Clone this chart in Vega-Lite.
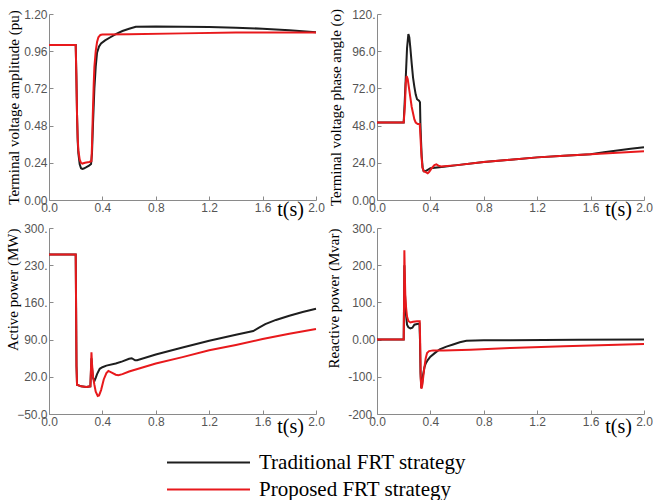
{
 "$schema": "https://vega.github.io/schema/vega-lite/v6.json",
 "padding": {"left": 4, "top": 8, "right": 2, "bottom": 2},
 "background": "white",
 "config": {
  "view": {"stroke": null},
  "axis": {"grid": false, "domainColor": "#8a8a8a", "tickColor": "#8a8a8a", "tickSize": -4, "labelColor": "#555555", "labelFont": "Liberation Sans", "labelFontSize": 12, "labelPadding": 5, "labelFlush": false, "labelOverlap": false, "titleFont": "Liberation Serif", "titleFontWeight": "normal", "titleColor": "#000000", "titleFontSize": 15},
  "axisX": {"titleFontSize": 20, "titleAlign": "center", "titleBaseline": "alphabetic", "labelPadding": 6},
  "axisY": {"titleBaseline": "alphabetic", "labelPadding": 6},
  "line": {"strokeWidth": 2}
 },
 "datasets": {
  "v": [
   {"s":"T","t":0,"y":1.0},{"s":"T","t":0.2,"y":1.0},{"s":"T","t":0.205,"y":0.8},{"s":"T","t":0.21,"y":0.55},{"s":"T","t":0.215,"y":0.38},{"s":"T","t":0.22,"y":0.3},{"s":"T","t":0.23,"y":0.23},{"s":"T","t":0.24,"y":0.205},{"s":"T","t":0.25,"y":0.2},{"s":"T","t":0.26,"y":0.203},{"s":"T","t":0.28,"y":0.212},{"s":"T","t":0.3,"y":0.222},{"s":"T","t":0.315,"y":0.232},{"s":"T","t":0.322,"y":0.3},{"s":"T","t":0.33,"y":0.5},{"s":"T","t":0.34,"y":0.72},{"s":"T","t":0.35,"y":0.86},{"s":"T","t":0.36,"y":0.95},{"s":"T","t":0.375,"y":0.99},{"s":"T","t":0.39,"y":1.01},{"s":"T","t":0.42,"y":1.03},{"s":"T","t":0.46,"y":1.05},{"s":"T","t":0.5,"y":1.07},{"s":"T","t":0.55,"y":1.09},{"s":"T","t":0.6,"y":1.105},{"s":"T","t":0.65,"y":1.118},{"s":"T","t":0.8,"y":1.12},{"s":"T","t":1.0,"y":1.118},{"s":"T","t":1.2,"y":1.116},{"s":"T","t":1.4,"y":1.112},{"s":"T","t":1.6,"y":1.105},{"s":"T","t":1.8,"y":1.095},{"s":"T","t":2.0,"y":1.083},
   {"s":"P","t":0,"y":1.0},{"s":"P","t":0.2,"y":1.0},{"s":"P","t":0.205,"y":0.8},{"s":"P","t":0.21,"y":0.55},{"s":"P","t":0.215,"y":0.4},{"s":"P","t":0.22,"y":0.32},{"s":"P","t":0.23,"y":0.26},{"s":"P","t":0.24,"y":0.24},{"s":"P","t":0.25,"y":0.235},{"s":"P","t":0.27,"y":0.24},{"s":"P","t":0.3,"y":0.245},{"s":"P","t":0.318,"y":0.25},{"s":"P","t":0.322,"y":0.35},{"s":"P","t":0.328,"y":0.55},{"s":"P","t":0.335,"y":0.75},{"s":"P","t":0.34,"y":0.86},{"s":"P","t":0.35,"y":0.96},{"s":"P","t":0.36,"y":1.02},{"s":"P","t":0.37,"y":1.05},{"s":"P","t":0.385,"y":1.065},{"s":"P","t":0.4,"y":1.068},{"s":"P","t":0.6,"y":1.07},{"s":"P","t":1.0,"y":1.075},{"s":"P","t":1.4,"y":1.08},{"s":"P","t":2.0,"y":1.08}
  ],
  "a": [
   {"s":"T","t":0,"y":50},{"s":"T","t":0.2,"y":50},{"s":"T","t":0.21,"y":68},{"s":"T","t":0.217,"y":82},{"s":"T","t":0.225,"y":98},{"s":"T","t":0.235,"y":107},{"s":"T","t":0.242,"y":105},{"s":"T","t":0.25,"y":98},{"s":"T","t":0.26,"y":88},{"s":"T","t":0.27,"y":79},{"s":"T","t":0.28,"y":73},{"s":"T","t":0.29,"y":68},{"s":"T","t":0.3,"y":65},{"s":"T","t":0.315,"y":64},{"s":"T","t":0.322,"y":63},{"s":"T","t":0.325,"y":50},{"s":"T","t":0.33,"y":38},{"s":"T","t":0.335,"y":28},{"s":"T","t":0.342,"y":21},{"s":"T","t":0.35,"y":18.5},{"s":"T","t":0.36,"y":18.5},{"s":"T","t":0.38,"y":19.5},{"s":"T","t":0.4,"y":20.5},{"s":"T","t":0.5,"y":21.5},{"s":"T","t":0.6,"y":22.5},{"s":"T","t":0.8,"y":24.5},{"s":"T","t":1.0,"y":26},{"s":"T","t":1.2,"y":27.5},{"s":"T","t":1.4,"y":28.5},{"s":"T","t":1.6,"y":29.5},{"s":"T","t":1.7,"y":30.8},{"s":"T","t":1.8,"y":32},{"s":"T","t":1.9,"y":33},{"s":"T","t":2.0,"y":34},
   {"s":"P","t":0,"y":50},{"s":"P","t":0.2,"y":50},{"s":"P","t":0.21,"y":62},{"s":"P","t":0.215,"y":75},{"s":"P","t":0.222,"y":80},{"s":"P","t":0.23,"y":78},{"s":"P","t":0.24,"y":72},{"s":"P","t":0.25,"y":66},{"s":"P","t":0.26,"y":60},{"s":"P","t":0.27,"y":56},{"s":"P","t":0.28,"y":52},{"s":"P","t":0.29,"y":50},{"s":"P","t":0.305,"y":49},{"s":"P","t":0.32,"y":49},{"s":"P","t":0.325,"y":42},{"s":"P","t":0.332,"y":30},{"s":"P","t":0.34,"y":21},{"s":"P","t":0.35,"y":18.5},{"s":"P","t":0.365,"y":18},{"s":"P","t":0.38,"y":17.3},{"s":"P","t":0.39,"y":18},{"s":"P","t":0.41,"y":20.5},{"s":"P","t":0.43,"y":22.5},{"s":"P","t":0.445,"y":23},{"s":"P","t":0.46,"y":22.2},{"s":"P","t":0.48,"y":21.6},{"s":"P","t":0.6,"y":22.5},{"s":"P","t":0.8,"y":24.5},{"s":"P","t":1.0,"y":26},{"s":"P","t":1.2,"y":27.5},{"s":"P","t":1.4,"y":28.5},{"s":"P","t":1.6,"y":29.5},{"s":"P","t":1.8,"y":30.5},{"s":"P","t":2.0,"y":31.5}
  ],
  "p": [
   {"s":"T","t":0,"y":250},{"s":"T","t":0.2,"y":250},{"s":"T","t":0.203,"y":150},{"s":"T","t":0.206,"y":40},{"s":"T","t":0.21,"y":5},{"s":"T","t":0.24,"y":2},{"s":"T","t":0.28,"y":1},{"s":"T","t":0.31,"y":2},{"s":"T","t":0.315,"y":35},{"s":"T","t":0.318,"y":55},{"s":"T","t":0.323,"y":35},{"s":"T","t":0.33,"y":18},{"s":"T","t":0.34,"y":12},{"s":"T","t":0.35,"y":18},{"s":"T","t":0.36,"y":25},{"s":"T","t":0.38,"y":35},{"s":"T","t":0.4,"y":38},{"s":"T","t":0.43,"y":41},{"s":"T","t":0.5,"y":45},{"s":"T","t":0.55,"y":49},{"s":"T","t":0.6,"y":54},{"s":"T","t":0.62,"y":55},{"s":"T","t":0.645,"y":51},{"s":"T","t":0.66,"y":51},{"s":"T","t":0.8,"y":62},{"s":"T","t":1.0,"y":75},{"s":"T","t":1.2,"y":88},{"s":"T","t":1.4,"y":99},{"s":"T","t":1.53,"y":106},{"s":"T","t":1.57,"y":112},{"s":"T","t":1.62,"y":119},{"s":"T","t":1.7,"y":127},{"s":"T","t":1.8,"y":135},{"s":"T","t":1.9,"y":142},{"s":"T","t":2.0,"y":148},
   {"s":"P","t":0,"y":250},{"s":"P","t":0.2,"y":250},{"s":"P","t":0.203,"y":150},{"s":"P","t":0.206,"y":40},{"s":"P","t":0.21,"y":5},{"s":"P","t":0.24,"y":2},{"s":"P","t":0.28,"y":1},{"s":"P","t":0.31,"y":2},{"s":"P","t":0.315,"y":40},{"s":"P","t":0.318,"y":66},{"s":"P","t":0.322,"y":45},{"s":"P","t":0.33,"y":20},{"s":"P","t":0.34,"y":5},{"s":"P","t":0.35,"y":-8},{"s":"P","t":0.365,"y":-16},{"s":"P","t":0.375,"y":-15},{"s":"P","t":0.39,"y":-5},{"s":"P","t":0.41,"y":15},{"s":"P","t":0.43,"y":27},{"s":"P","t":0.445,"y":31},{"s":"P","t":0.47,"y":28},{"s":"P","t":0.5,"y":24},{"s":"P","t":0.52,"y":23},{"s":"P","t":0.55,"y":25},{"s":"P","t":0.6,"y":30},{"s":"P","t":0.8,"y":45},{"s":"P","t":1.0,"y":57},{"s":"P","t":1.2,"y":70},{"s":"P","t":1.4,"y":80},{"s":"P","t":1.6,"y":91},{"s":"P","t":1.8,"y":101},{"s":"P","t":2.0,"y":110}
  ],
  "q": [
   {"s":"T","t":0,"y":0},{"s":"T","t":0.2,"y":0},{"s":"T","t":0.203,"y":110},{"s":"T","t":0.205,"y":200},{"s":"T","t":0.21,"y":120},{"s":"T","t":0.215,"y":75},{"s":"T","t":0.225,"y":40},{"s":"T","t":0.235,"y":33},{"s":"T","t":0.25,"y":30},{"s":"T","t":0.265,"y":32},{"s":"T","t":0.28,"y":40},{"s":"T","t":0.3,"y":42},{"s":"T","t":0.318,"y":43},{"s":"T","t":0.322,"y":0},{"s":"T","t":0.326,"y":-90},{"s":"T","t":0.332,"y":-130},{"s":"T","t":0.338,"y":-120},{"s":"T","t":0.345,"y":-95},{"s":"T","t":0.355,"y":-75},{"s":"T","t":0.365,"y":-64},{"s":"T","t":0.38,"y":-55},{"s":"T","t":0.4,"y":-46},{"s":"T","t":0.43,"y":-37},{"s":"T","t":0.47,"y":-26},{"s":"T","t":0.52,"y":-19},{"s":"T","t":0.57,"y":-13},{"s":"T","t":0.62,"y":-7},{"s":"T","t":0.67,"y":-3},{"s":"T","t":0.8,"y":-2},{"s":"T","t":1.0,"y":-1.5},{"s":"T","t":1.5,"y":-0.5},{"s":"T","t":2.0,"y":0},
   {"s":"P","t":0,"y":0},{"s":"P","t":0.2,"y":0},{"s":"P","t":0.203,"y":120},{"s":"P","t":0.205,"y":240},{"s":"P","t":0.208,"y":180},{"s":"P","t":0.212,"y":120},{"s":"P","t":0.218,"y":85},{"s":"P","t":0.225,"y":62},{"s":"P","t":0.235,"y":50},{"s":"P","t":0.25,"y":46},{"s":"P","t":0.27,"y":48},{"s":"P","t":0.3,"y":49},{"s":"P","t":0.32,"y":49},{"s":"P","t":0.323,"y":0},{"s":"P","t":0.327,"y":-100},{"s":"P","t":0.332,"y":-132},{"s":"P","t":0.338,"y":-125},{"s":"P","t":0.345,"y":-105},{"s":"P","t":0.355,"y":-75},{"s":"P","t":0.365,"y":-50},{"s":"P","t":0.375,"y":-36},{"s":"P","t":0.39,"y":-31},{"s":"P","t":0.42,"y":-29},{"s":"P","t":0.5,"y":-29},{"s":"P","t":0.7,"y":-27},{"s":"P","t":1.0,"y":-22.5},{"s":"P","t":1.4,"y":-18},{"s":"P","t":1.8,"y":-14},{"s":"P","t":2.0,"y":-12}
  ]
 },
 "columns": 2,
 "spacing": {"row": 28, "column": 61},
 "bounds": "flush",
 "concat": [
  {
   "width": 267, "height": 186,
   "data": {"name": "v"},
   "mark": {"type": "line"},
   "encoding": {
    "x": {"field": "t", "type": "quantitative", "scale": {"domain": [0, 2]}, "axis": {"values": [0, 0.4, 0.8, 1.2, 1.6, 2.0], "format": ".1f", "title": "t(s)", "titleX": 241, "titleY": 15}},
    "y": {"field": "y", "type": "quantitative", "scale": {"domain": [0, 1.2]}, "axis": {"values": [0, 0.24, 0.48, 0.72, 0.96, 1.2], "format": ".2f", "title": "Terminal voltage amplitude (pu)", "titleX": -31}},
    "color": {"field": "s", "type": "nominal", "scale": {"domain": ["T", "P"], "range": ["#1e1e1e", "#e8191c"]},
     "legend": {"orient": "none", "legendX": 117, "legendY": 435, "direction": "vertical", "symbolType": "stroke", "symbolSize": 6889, "symbolStrokeWidth": 2.5, "clipHeight": 27, "rowPadding": 0, "padding": 0, "labelFont": "Liberation Serif", "labelFontSize": 21, "labelColor": "#000000", "labelOffset": 8, "labelLimit": 400, "title": null, "labelExpr": "datum.value == 'T' ? 'Traditional FRT  strategy' : 'Proposed  FRT strategy'"}}
   }
  },
  {
   "width": 267, "height": 186,
   "data": {"name": "a"},
   "mark": {"type": "line"},
   "encoding": {
    "x": {"field": "t", "type": "quantitative", "scale": {"domain": [0, 2]}, "axis": {"values": [0, 0.4, 0.8, 1.2, 1.6, 2.0], "format": ".1f", "title": "t(s)", "titleX": 241, "titleY": 15}},
    "y": {"field": "y", "type": "quantitative", "scale": {"domain": [0, 120]}, "axis": {"values": [0, 24, 48, 72, 96, 120], "labelExpr": "datum.value == 0 ? '0.00' : datum.value == 120 ? '120.' : format(datum.value, '.1f')", "title": "Terminal voltage phase angle (o)", "titleX": -37}},
    "color": {"field": "s", "type": "nominal", "scale": {"domain": ["T", "P"], "range": ["#1e1e1e", "#e8191c"]}}
   }
  },
  {
   "width": 267, "height": 186,
   "data": {"name": "p"},
   "mark": {"type": "line"},
   "encoding": {
    "x": {"field": "t", "type": "quantitative", "scale": {"domain": [0, 2]}, "axis": {"values": [0, 0.4, 0.8, 1.2, 1.6, 2.0], "format": ".1f", "title": "t(s)", "titleX": 241, "titleY": 18}},
    "y": {"field": "y", "type": "quantitative", "scale": {"domain": [-50, 300]}, "axis": {"values": [-50, 20, 90, 160, 230, 300], "labelExpr": "datum.value >= 100 ? datum.value + '.' : format(datum.value, '.1f')", "title": "Active power (MW)", "titleX": -32, "titleAnchor": "end"}},
    "color": {"field": "s", "type": "nominal", "scale": {"domain": ["T", "P"], "range": ["#1e1e1e", "#e8191c"]}}
   }
  },
  {
   "width": 267, "height": 186,
   "data": {"name": "q"},
   "mark": {"type": "line"},
   "encoding": {
    "x": {"field": "t", "type": "quantitative", "scale": {"domain": [0, 2]}, "axis": {"values": [0, 0.4, 0.8, 1.2, 1.6, 2.0], "format": ".1f", "title": "t(s)", "titleX": 241, "titleY": 18}},
    "y": {"field": "y", "type": "quantitative", "scale": {"domain": [-200, 300]}, "axis": {"values": [-200, -100, 0, 100, 200, 300], "labelExpr": "datum.value == 0 ? '0.00' : datum.value + '.'", "title": "Reactive power (Mvar)", "titleX": -39, "titleAnchor": "end"}},
    "color": {"field": "s", "type": "nominal", "scale": {"domain": ["T", "P"], "range": ["#1e1e1e", "#e8191c"]}}
   }
  }
 ]
}
